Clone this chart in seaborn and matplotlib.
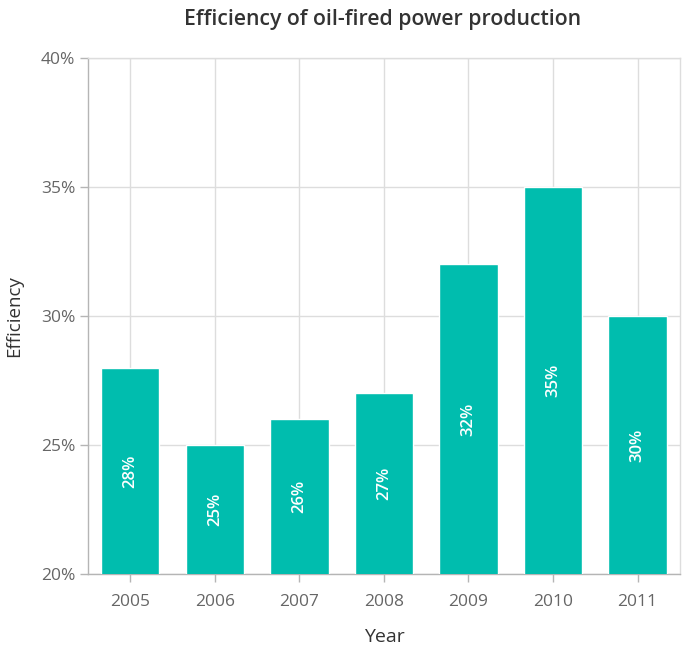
import matplotlib
matplotlib.use("Agg")
import matplotlib.pyplot as plt
import seaborn as sns
import pandas as pd
from matplotlib.ticker import FuncFormatter

# chart data
years = ["2005", "2006", "2007", "2008", "2009", "2010", "2011"]
efficiency = [28, 25, 26, 27, 32, 35, 30]

df = pd.DataFrame({"Year": years, "Efficiency": efficiency})

sns.set_style("white")
plt.rcParams["font.family"] = ["Open Sans", "DejaVu Sans"]

fig = plt.figure(figsize=(6.98, 6.51), dpi=100)
ax = fig.add_axes([0.126, 0.118, 0.848, 0.793])

sns.barplot(data=df, x="Year", y="Efficiency", color="#00BDAE", width=0.69,
            saturation=1, ax=ax, zorder=3)

ax.set_ylim(20, 40)
ax.set_yticks([20, 25, 30, 35, 40])
ax.yaxis.set_major_formatter(FuncFormatter(lambda v, p: f"{v:.0f}%"))

# grid lines: horizontal and vertical at categories
ax.grid(True, color="#dddddd", linewidth=1, zorder=0)
ax.set_axisbelow(True)

for s in ["top", "right"]:
    ax.spines[s].set_color("#dddddd")
for s in ["left", "bottom"]:
    ax.spines[s].set_color("#b5b5b5")
for s in ax.spines.values():
    s.set_linewidth(1)

ax.tick_params(axis="both", colors="#b5b5b5", labelcolor="#666666",
               labelsize=12.5, length=6, width=1, left=True, bottom=True)
ax.tick_params(axis="x", pad=8)
ax.tick_params(axis="y", pad=3)

# value labels rotated inside bars
for i, v in enumerate(efficiency):
    ax.text(i, (20 + v) / 2, f"{v}%", rotation=90, ha="center", va="center",
            color="white", fontsize=12, fontweight="semibold")

ax.set_xlabel("Year", fontsize=14, color="#333333", labelpad=13)
ax.set_ylabel("Efficiency", fontsize=13.5, color="#333333", labelpad=13)
fig.suptitle("Efficiency of oil-fired power production", x=0.548, y=0.986,
             fontsize=15.3, fontweight="semibold", color="#333333")

fig.savefig("out.png", dpi=100)
